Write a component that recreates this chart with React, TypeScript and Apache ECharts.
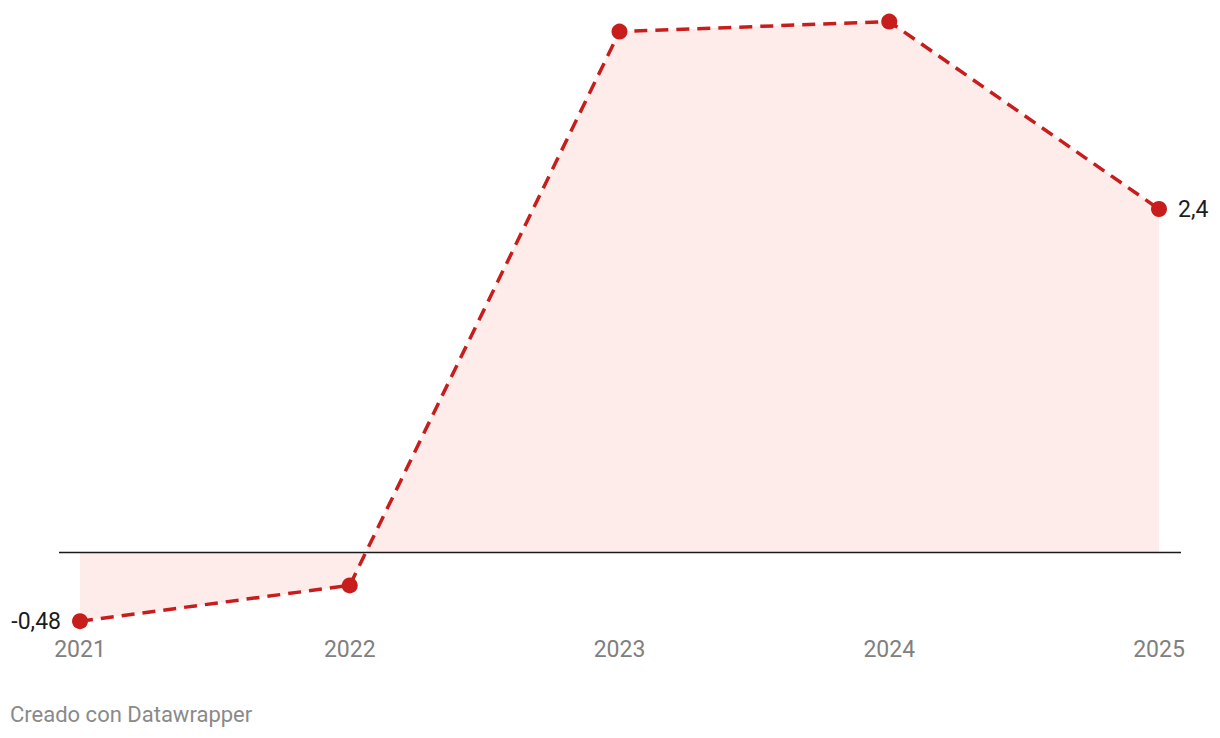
import React, { useEffect, useRef } from "react";
import * as echarts from "echarts";

const years = ["2021", "2022", "2023", "2024", "2025"];
const values = [-0.48, -0.23, 3.64, 3.71, 2.4];
const labelledIndexes = [0, 4];

const RED = "#c71e1d";
const FILL = "#fdecea";
const FONT = "Roboto, 'Noto Sans', sans-serif";

const fmt = (v: number) => String(v).replace(".", ",");

export default function App() {
  const ref = useRef<HTMLDivElement>(null);

  useEffect(() => {
    if (!ref.current) return;
    const chart = echarts.init(ref.current, undefined, { renderer: "svg" });
    const data = values.map((v, i) => {
      if (!labelledIndexes.includes(i)) return { value: v };
      return {
        value: v,
        label: {
          show: true,
          position: i === 0 ? "left" : "right",
          distance: 11,
          formatter: () => fmt(v),
          color: "#1d1d1d",
          fontSize: 23,
          fontFamily: FONT,
        },
      };
    });
    const footer = {
      type: "text",
      left: 10,
      top: 703,
      style: {
        text: "Creado con Datawrapper",
        fill: "#8a8a8a",
        fontSize: 22,
        fontFamily: FONT,
      },
    };
    chart.setOption({
      animation: false,
      backgroundColor: "#ffffff",
      grid: { left: 80, right: 61, top: 8.7, bottom: 113.95, containLabel: false },
      xAxis: {
        type: "category",
        data: years,
        boundaryGap: false,
        axisLine: { show: false },
        axisTick: { show: false },
        splitLine: { show: false },
        axisLabel: {
          color: "#808080",
          fontSize: 23,
          fontFamily: FONT,
          margin: 14,
        },
      },
      yAxis: {
        type: "value",
        min: -0.5,
        max: 3.8,
        show: false,
        splitLine: { show: false },
      },
      series: [
        {
          type: "line",
          data,
          symbol: "circle",
          symbolSize: 16,
          itemStyle: { color: RED },
          lineStyle: { color: RED, width: 3.5, type: [13, 8] },
          areaStyle: { color: FILL, opacity: 1 },
          label: { show: false },
          z: 2,
        },
      ],
      graphic: [footer],
    });
    const y0 = chart.convertToPixel({ yAxisIndex: 0 }, 0) as number;
    const xFirst = chart.convertToPixel({ xAxisIndex: 0 }, years[0]) as number;
    const xLast = chart.convertToPixel({ xAxisIndex: 0 }, years[years.length - 1]) as number;
    chart.setOption({
      graphic: [
        footer,
        {
          type: "line",
          z: 10,
          shape: { x1: xFirst - 21, y1: y0, x2: xLast + 22, y2: y0 },
          style: { stroke: "#1a1a1a", lineWidth: 1.5 },
        },
      ],
    });
    return () => chart.dispose();
  }, []);

  return (
    <div
      ref={ref}
      style={{ position: "fixed", left: 0, top: 0, width: 1220, height: 738 }}
    />
  );
}
